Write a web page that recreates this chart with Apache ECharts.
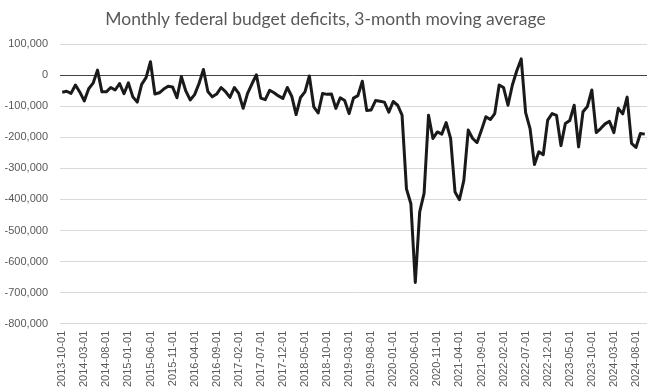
<!DOCTYPE html>
<html>
<head>
<meta charset="utf-8">
<script src="https://cdn.jsdelivr.net/npm/echarts@6/dist/echarts.min.js"></script>
<style>
html,body{margin:0;padding:0;background:#fff;}
#chart{width:651px;height:390px;}
</style>
</head>
<body>
<div id="chart"></div>
<script>
// Monthly categories: 2013-10 .. 2024-10
const startYear = 2013, startMonth = 10, monthCount = 133;
const categories = [];
for (let k = 0; k < monthCount; k++) {
  const m = startMonth - 1 + k;
  const y = startYear + Math.floor(m / 12);
  const mm = (m % 12) + 1;
  categories.push(y + '-' + (mm < 10 ? '0' + mm : mm) + '-01');
}

// 3-month moving average of monthly federal budget deficit (millions)
const deficits = [
  -55000, -52000, -59000, -32000, -55000, -83000, -44000, -26000, 16000, -54000,
  -54000, -40000, -48000, -27000, -60000, -25000, -70000, -87000, -30000, -8000,
  43000, -61000, -57000, -45000, -36000, -38000, -73000, -5000, -51000, -80000,
  -63000, -27000, 18000, -53000, -70000, -61000, -40000, -53000, -72000, -40000,
  -59000, -107000, -59000, -28000, 1000, -74000, -79000, -49000, -57000, -67000,
  -75000, -40000, -68000, -127000, -72000, -54000, -3000, -102000, -122000, -59000,
  -62000, -61000, -107000, -73000, -82000, -124000, -74000, -66000, -20000, -114000,
  -112000, -82000, -84000, -87000, -119000, -85000, -97000, -129000, -366000, -414000,
  -667000, -440000, -380000, -129000, -204000, -183000, -190000, -153000, -204000, -376000,
  -401000, -339000, -177000, -204000, -217000, -177000, -134000, -143000, -124000, -32000,
  -40000, -97000, -32000, 14000, 52000, -121000, -172000, -288000, -247000, -256000,
  -145000, -124000, -130000, -227000, -156000, -146000, -97000, -231000, -118000, -101000,
  -48000, -185000, -172000, -157000, -149000, -185000, -107000, -125000, -71000, -220000,
  -233000, -188000, -190000
];

const titleText = 'Monthly federal budget deficits, 3-month moving average';
const yMin = -800000, yMax = 100000, yStep = 100000;

const chart = echarts.init(document.getElementById('chart'), null, {renderer: 'canvas'});
chart.setOption({
  animation: false,
  backgroundColor: '#ffffff',
  title: {
    text: titleText,
    left: 'center',
    top: 5,
    textStyle: {fontFamily: 'Lato', fontSize: 17.5, fontWeight: 'normal', color: '#595959'}
  },
  grid: {left: 60, right: 4, top: 44, bottom: 66, containLabel: false},
  xAxis: {
    type: 'category',
    data: categories,
    boundaryGap: true,
    axisLine: {show: false},
    axisTick: {show: false},
    splitLine: {show: false},
    axisLabel: {
      interval: 4,
      rotate: 90,
      margin: 7,
      fontFamily: '"Liberation Sans", Arial, sans-serif',
      fontSize: 11,
      color: '#595959'
    }
  },
  yAxis: {
    type: 'value',
    min: yMin,
    max: yMax,
    interval: yStep,
    axisLine: {show: false},
    axisTick: {show: false},
    splitLine: {lineStyle: {color: '#d9d9d9', width: 1}},
    axisLabel: {
      margin: 12,
      fontFamily: '"Liberation Sans", Arial, sans-serif',
      fontSize: 11,
      color: '#595959',
      formatter: v => v.toLocaleString('en-US')
    }
  },
  series: [{
    type: 'line',
    data: deficits,
    showSymbol: false,
    symbol: 'none',
    lineStyle: {color: '#1a1a1a', width: 3, join: 'round'},
    z: 3,
    markLine: {
      silent: true,
      symbol: ['none', 'none'],
      label: {show: false},
      lineStyle: {color: '#e00000', type: 'solid', width: 1},
      data: [{yAxis: 0}],
      z: 2
    }
  }]
});
</script>
</body>
</html>
